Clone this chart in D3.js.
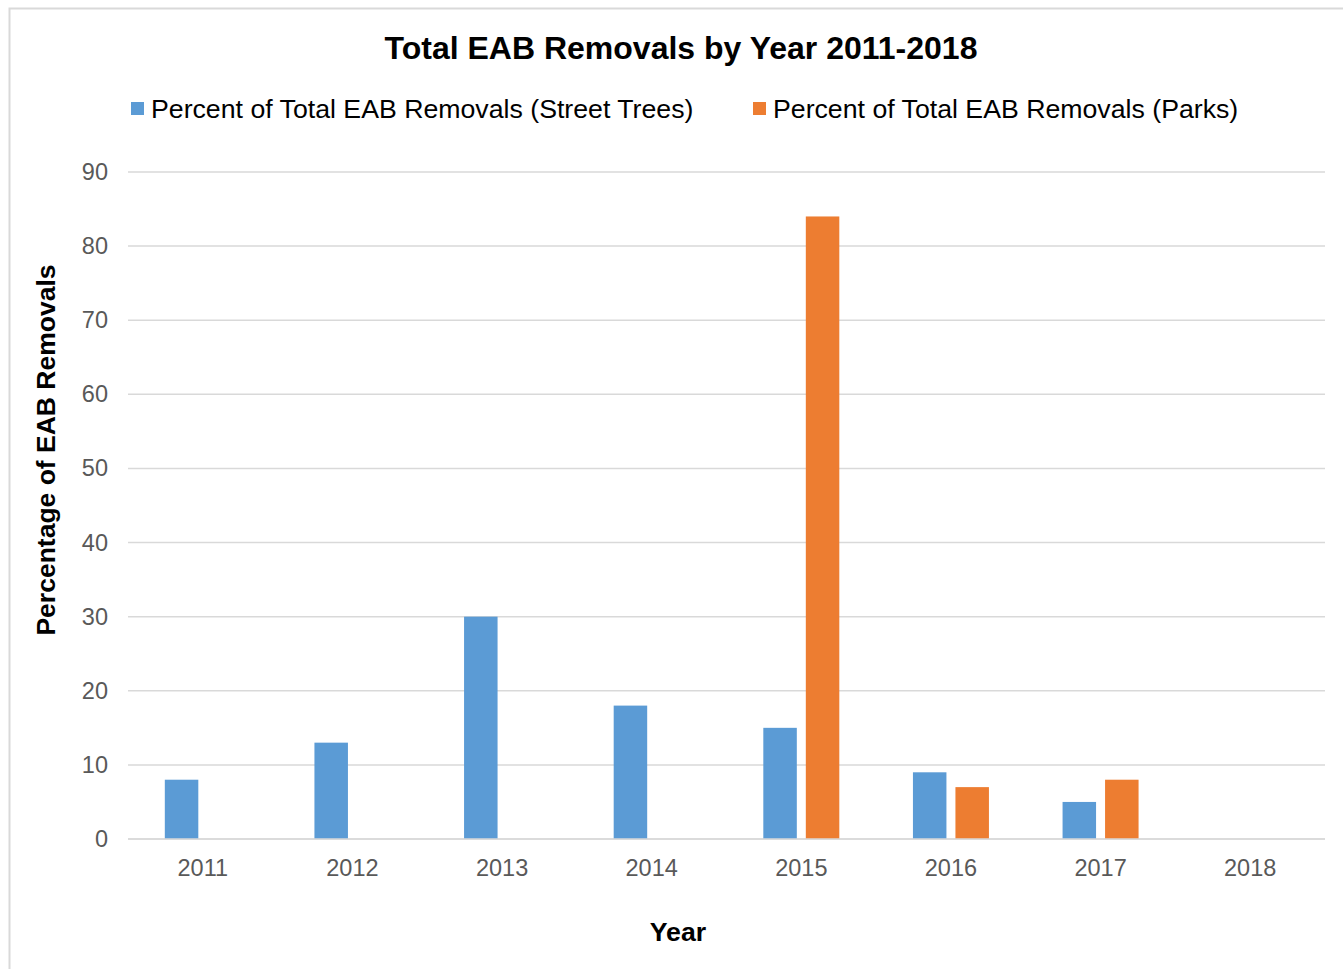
<!DOCTYPE html>
<html><head><meta charset="utf-8">
<script src="https://cdn.jsdelivr.net/npm/d3@7"></script>
<style>body{margin:0;background:#fff;} svg{display:block;font-family:"Liberation Sans",Arial,sans-serif;}</style>
</head><body><svg id="c" width="1343" height="969"></svg>
<script>
const years = ["2011","2012","2013","2014","2015","2016","2017","2018"];
const streetTrees = [8,13,30,18,15,9,5,0];
const parks = [0,0,0,0,84,7,8,0];
const seriesNames = ["Percent of Total EAB Removals (Street Trees)","Percent of Total EAB Removals (Parks)"];
const seriesColors = ["#5b9bd5","#ed7d31"];
const yTicks = [0,10,20,30,40,50,60,70,80,90];

const svg = d3.select("#c");
svg.append("rect").attr("x",9.5).attr("y",8.5).attr("width",1345).attr("height",970)
  .attr("fill","#fff").attr("stroke","#d9d9d9").attr("stroke-width",2);

const pLeft=128, pRight=1325, pTop=172, pBottom=839;
const x = d3.scaleBand().domain(years).range([pLeft,pRight]);
const y = d3.scaleLinear().domain([0,90]).range([pBottom,pTop]);

// gridlines
svg.append("g").selectAll("line").data(yTicks).join("line")
  .attr("x1",pLeft).attr("x2",pRight).attr("y1",d=>y(d)).attr("y2",d=>y(d))
  .attr("stroke","#d9d9d9").attr("stroke-width",1.5);

// y axis labels
const yAxis = d3.axisLeft(y).tickValues(yTicks).tickSize(0).tickPadding(20);
const ga = svg.append("g").attr("transform",`translate(${pLeft},0)`).call(yAxis);
ga.select(".domain").remove();
ga.selectAll("text").attr("font-size",23.5).attr("fill","#595959").attr("font-family","Liberation Sans, Arial, sans-serif");

const xAxis = d3.axisBottom(x).tickSize(0).tickPadding(20);
const gx = svg.append("g").attr("transform",`translate(0,${pBottom})`).call(xAxis);
gx.select(".domain").remove();
gx.selectAll("text").attr("font-size",23.5).attr("fill","#595959").attr("font-family","Liberation Sans, Arial, sans-serif");

// bars
const bw = 33.5, gap = 4.5;
const data = [streetTrees, parks];
data.forEach((vals,si)=>{
  svg.append("g").selectAll("rect").data(years).join("rect")
    .attr("x",(d)=> x(d)+x.bandwidth()/2 + (si===0 ? -gap-bw : gap))
    .attr("width",bw)
    .attr("y",(d,i)=>y(vals[i]))
    .attr("height",(d,i)=>pBottom-y(vals[i]))
    .attr("fill",seriesColors[si]);
});

// baseline
svg.append("line").attr("x1",pLeft).attr("x2",pRight).attr("y1",pBottom).attr("y2",pBottom)
  .attr("stroke","#d9d9d9").attr("stroke-width",1.5);

// title
svg.append("text").attr("x",681).attr("y",59).attr("text-anchor","middle")
  .attr("font-size",32).attr("font-weight","bold").attr("fill","#000")
  .text("Total EAB Removals by Year 2011-2018");

// legend
const legX = [131, 753];
seriesNames.forEach((n,i)=>{
  svg.append("rect").attr("x",legX[i]).attr("y",102).attr("width",13).attr("height",13).attr("fill",seriesColors[i]);
  svg.append("text").attr("x",legX[i]+20).attr("y",117.5).attr("font-size",26.7).attr("fill","#000").text(n);
});

// axis titles
svg.append("text").attr("x",678).attr("y",941).attr("text-anchor","middle")
  .attr("font-size",26.7).attr("font-weight","bold").text("Year");
svg.append("text").attr("transform","translate(55,450) rotate(-90)").attr("text-anchor","middle")
  .attr("font-size",26.5).attr("font-weight","bold").text("Percentage of EAB Removals");
</script></body></html>
